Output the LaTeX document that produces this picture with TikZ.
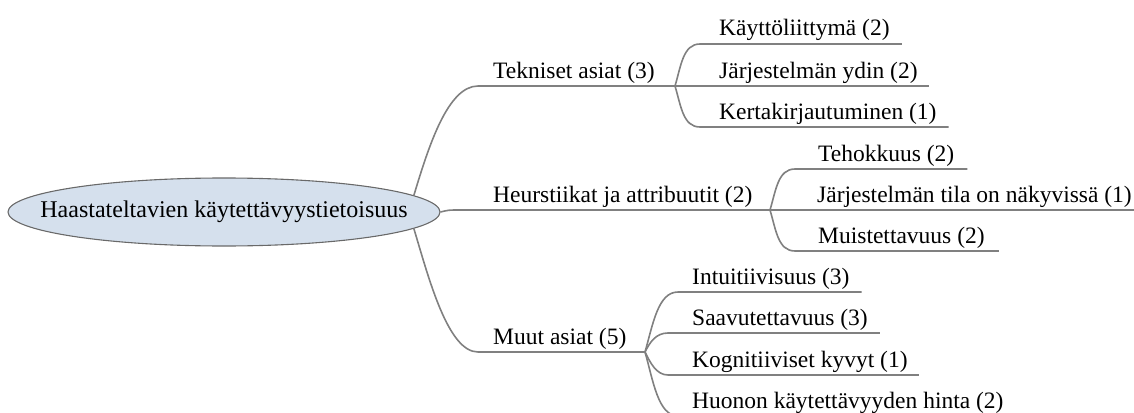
\documentclass[tikz,border=0pt]{standalone}
\usepackage{fontspec}
\setmainfont{Liberation Serif}
\usetikzlibrary{shapes.geometric,calc}

\definecolor{branchgray}{RGB}{128,128,128}
\definecolor{rootfill}{RGB}{213,224,237}
\definecolor{rootdraw}{RGB}{105,105,105}

\tikzset{
  branch/.style={draw=branchgray, line width=1.6pt},
  topic/.style={anchor=base west, inner sep=0pt, font=\fontsize{23.5}{28}\selectfont},
  rootnode/.style={ellipse, draw=rootdraw, fill=rootfill, line width=1.1pt,
    minimum width=432pt, minimum height=68pt, inner xsep=-60pt, inner ysep=0pt,
    font=\fontsize{24}{28}\selectfont},
}

\begin{document}
\begin{tikzpicture}[x=1pt,y=-1pt]
\useasboundingbox (0,0) rectangle (1134,412);
\clip (0,0) rectangle (1134,412);

% central topic
\node[rootnode] (root) at (224,212) {Haastateltavien käytettävyystietoisuus};

% main topics
\node[topic] (tek) at (493,78) {Tekniset asiat (3)};
\node[topic] (heu) at (493,202) {Heurstiikat ja attribuutit (2)};
\node[topic] (muu) at (493,344) {Muut asiat (5)};

% junction points where sub-branches split off
\coordinate (jT) at (675,86);
\coordinate (jH) at (770,210);
\coordinate (jM) at (645,352);

% sub-topics
\node[topic] (t1) at (719,36)  {Käyttöliittymä (2)};
\node[topic] (t2) at (719,78)  {Järjestelmän ydin (2)};
\node[topic] (t3) at (719,119) {Kertakirjautuminen (1)};

\node[topic] (h1) at (818,161) {Tehokkuus (2)};
\node[topic] (h2) at (817,202) {Järjestelmän tila on näkyvissä (1)};
\node[topic] (h3) at (818,243) {Muistettavuus (2)};

\node[topic] (m1) at (692,284) {Intuitiivisuus (3)};
\node[topic] (m2) at (692,325) {Saavutettavuus (3)};
\node[topic] (m3) at (692,367) {Kognitiiviset kyvyt (1)};
\node[topic] (m4) at (692,408) {Huonon käytettävyyden hinta (2)};

% branches from the central topic
\draw[branch] (root.5) .. controls +(15,-50) and +(-30,0) .. (478,86) -- (jT);
\draw[branch] (root.east) .. controls +(8,-2) .. (460,210) -- (jH);
\draw[branch] (root.-5) .. controls +(15,50) and +(-30,0) .. (478,352) -- (jM);

% sub-branches
\draw[branch] (jT) .. controls +(6,-20) and +(-17,0) .. ($(t1.base west)+(-19,8)$) -- ($(t1.base east)+(12,8)$);
\draw[branch] (jT) -- ($(t2.base east)+(11,8)$);
\draw[branch] (jT) .. controls +(6,20) and +(-17,0) .. ($(t3.base west)+(-19,8)$) -- ($(t3.base east)+(12,8)$);

\draw[branch] (jH) .. controls +(6,-20) and +(-17,0) .. ($(h1.base west)+(-23,8)$) -- ($(h1.base east)+(13,8)$);
\draw[branch] (jH) -- (1134,210);
\draw[branch] (jH) .. controls +(6,20) and +(-17,0) .. ($(h3.base west)+(-23,8)$) -- ($(h3.base east)+(14,8)$);

\draw[branch] (jM) .. controls +(8,-28) and +(-20,0) .. ($(m1.base west)+(-14,8)$) -- ($(m1.base east)+(12,8)$);
\draw[branch] (jM) .. controls +(5,-10) and +(-12,0) .. ($(m2.base west)+(-24,8)$) -- ($(m2.base east)+(12,8)$);
\draw[branch] (jM) .. controls +(5,10) and +(-12,0) .. ($(m3.base west)+(-24,8)$) -- ($(m3.base east)+(11,8)$);
\draw[branch] (jM) .. controls +(8,28) and +(-20,0) .. ($(m4.base west)+(-14,8)$) -- ($(m4.base east)+(12,8)$);
\end{tikzpicture}
\end{document}
